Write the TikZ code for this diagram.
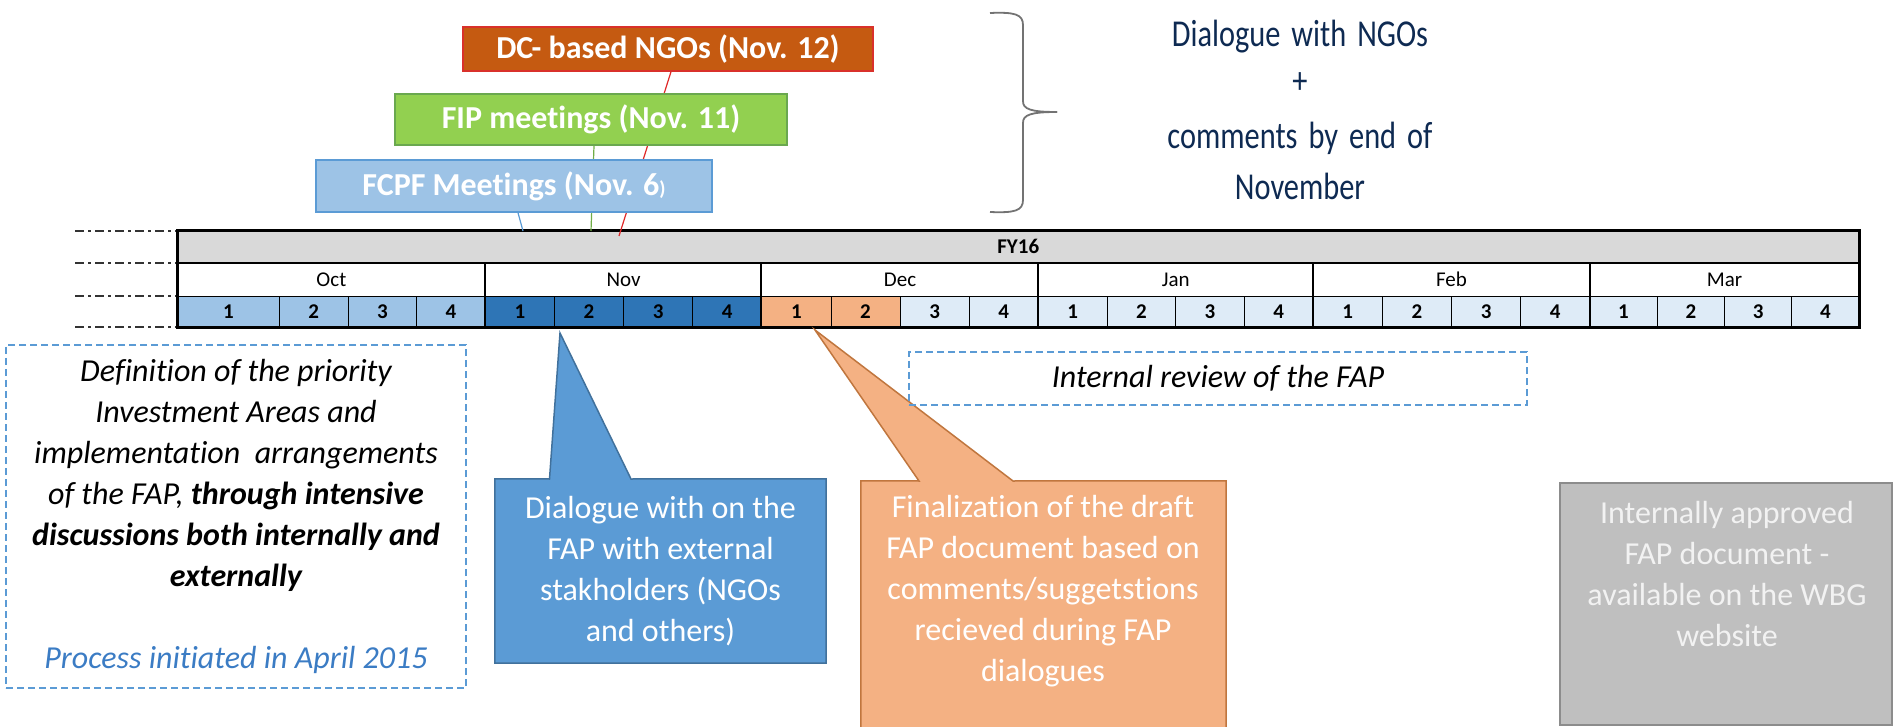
\documentclass[tikz,border=0pt]{standalone}
\usepackage{fontspec}
\setmainfont{Carlito}[Ligatures=NoCommon]
\newfontfamily\navyfont{Carlito}[FakeStretch=0.8,WordSpace=1.6,Ligatures=NoCommon]
\usetikzlibrary{calc}
\pgfdeclarelayer{bg}
\pgfdeclarelayer{mid}
\pgfsetlayers{bg,mid,main}
\definecolor{dcfill}{HTML}{C55A11}
\definecolor{dcdraw}{HTML}{D9312B}
\definecolor{fipfill}{HTML}{92D050}
\definecolor{fipdraw}{HTML}{6AA84F}
\definecolor{fcpffill}{HTML}{9DC3E6}
\definecolor{fcpfdraw}{HTML}{5B9BD5}
\definecolor{octc}{HTML}{9DC3E6}
\definecolor{novc}{HTML}{2E75B6}
\definecolor{decc}{HTML}{F4B183}
\definecolor{palec}{HTML}{DEEBF7}
\definecolor{fyc}{HTML}{D9D9D9}
\definecolor{navy}{HTML}{0E2A52}
\definecolor{dashblue}{HTML}{5B9BD5}
\definecolor{procblue}{HTML}{3B7CC4}
\definecolor{calblue}{HTML}{5B9BD5}
\definecolor{calbluedraw}{HTML}{41719C}
\definecolor{calorange}{HTML}{F4B183}
\definecolor{calorangedraw}{HTML}{C0763E}
\definecolor{grayfill}{HTML}{BFBFBF}
\definecolor{graydraw}{HTML}{8C8C8C}
\definecolor{graytext}{HTML}{F2F2F2}
\definecolor{redlink}{HTML}{E02828}
\definecolor{greenlink}{HTML}{70AD47}
\definecolor{bluelink}{HTML}{5B9BD5}
\newcommand\fsz[2]{\fontsize{#1}{#2}\selectfont}
\begin{document}
\begin{tikzpicture}[x=1pt,y=-1pt,
  topbox/.style={line width=1.5pt, inner sep=0pt, text=white, font=\bfseries\fsz{32}{36}},
  cell/.style={draw=black, line width=0.8pt, inner sep=0pt},
  weeknum/.style={font=\bfseries\fsz{21}{21}},
  monthname/.style={font=\fsz{21}{21}},
  dashdotmark/.style={draw=black!80, line width=2pt, dash pattern=on 9pt off 4pt on 3pt off 4pt},
  dashbox/.style={draw=dashblue, line width=2.5pt, dash pattern=on 7pt off 4pt, inner sep=0pt},
  caltext/.style={text=white, align=center, font=\fsz{32}{41}},
  link/.style={line width=1.2pt},
  bracestyle/.style={draw=black!55, line width=1.8pt}
]
\useasboundingbox (0,0) rectangle (1893,727);

% ---------------- timeline table ----------------
\begin{pgfonlayer}{bg}
\node[cell, fill=fyc, minimum width=1681.5, minimum height=32.4, font=\bfseries\fsz{21}{21}] (fy) at (1018.25,246.8) {FY16};
\foreach \m/\a/\b in {Oct/177.5/485.3, Nov/485.3/761.8, Dec/761.8/1038.3, Jan/1038.3/1313.1, Feb/1313.1/1589.9, Mar/1589.9/1859}
  \node[cell, fill=white, minimum width={\b-\a}, minimum height=33, monthname] (m\m) at ({(\a+\b)/2},279.5) {\m};
\foreach \a/\b/\n/\c [count=\i] in {
  177.5/279.5/1/octc, 279.5/348.1/2/octc, 348.1/416.7/3/octc, 416.7/485.3/4/octc,
  485.3/554.4/1/novc, 554.4/623.55/2/novc, 623.55/692.7/3/novc, 692.7/761.8/4/novc,
  761.8/830.9/1/decc, 830.9/900.05/2/decc, 900.05/969.2/3/palec, 969.2/1038.3/4/palec,
  1038.3/1107/1/palec, 1107/1175.7/2/palec, 1175.7/1244.4/3/palec, 1244.4/1313.1/4/palec,
  1313.1/1382.3/1/palec, 1382.3/1451.5/2/palec, 1451.5/1520.7/3/palec, 1520.7/1589.9/4/palec,
  1589.9/1657.2/1/palec, 1657.2/1724.45/2/palec, 1724.45/1791.7/3/palec, 1791.7/1859/4/palec}
  \node[cell, fill=\c, minimum width={\b-\a}, minimum height=31.2, weeknum] (w\i) at ({(\a+\b)/2},311.6) {\n};
\foreach \m in {Nov,Dec,Jan,Feb,Mar}
  \draw[line width=2pt] (m\m.north west) -- (m\m.north west |- w1.south);
\draw[line width=2.2pt] (fy.south west) -- (fy.south east);
\draw[line width=3pt] (fy.north west) rectangle (w24.south east);
\foreach \yy in {230.6,263,296,327.2}
  \draw[dashdotmark] (75,\yy) -- (176,\yy);
\end{pgfonlayer}

% ---------------- meeting boxes ----------------
\node[topbox, draw=dcdraw, fill=dcfill, minimum width=410, minimum height=44] (dc) at (668,49) {DC- based NGOs (Nov. 12)};
\node[topbox, draw=fipdraw, fill=fipfill, minimum width=392, minimum height=51] (fip) at (591,119.5) {FIP meetings (Nov. 11)};
\node[topbox, draw=fcpfdraw, fill=fcpffill, minimum width=396, minimum height=52] (fcpf) at (514,186) {FCPF Meetings (Nov. 6{\fsz{20}{20})}};

\coordinate (fcpfend) at (523,231);
\coordinate (fipend) at (591,231);
\coordinate (dcend) at (619,236);
\begin{pgfonlayer}{mid}
\draw[link, draw=bluelink] ($(fcpf.south)+(4,0)$) -- (fcpfend);
\draw[link, draw=greenlink] ($(fip.south)+(3,0)$) -- (fipend);
\draw[link, draw=redlink] ($(dc.south)+(3,0)$) -- (dcend);
\end{pgfonlayer}

% ---------------- brace and NGO note ----------------
\draw[bracestyle] (990,13) .. controls (1014,12) and (1023,14) .. (1023,25) -- (1023,101)
   .. controls (1023,109) and (1030,112) .. (1057,112);
\draw[bracestyle] (990,212) .. controls (1014,213) and (1023,211) .. (1023,200) -- (1023,123)
   .. controls (1023,115) and (1030,112) .. (1057,112);
\node[text=navy, align=center, font=\navyfont\fsz{38}{51}] (dlg) at (1300,110) {Dialogue with NGOs\\[-4pt]+\\[4pt]comments by end of\\November};

% ---------------- left definition box ----------------
\node[dashbox, minimum width=460, minimum height=343] (defbox) at (236,516.5) {};
\node[align=center, font=\itshape\fsz{32}{41}] (deftext) at (236,516.5)
  {Definition of the priority\\Investment Areas and\\implementation\ \ arrangements\\of the FAP, \textbf{through intensive}\\\textbf{discussions both internally and}\\\textbf{externally}\\[41pt]\textcolor{procblue}{Process initiated in April 2015}};

% ---------------- internal review ----------------
\node[dashbox, minimum width=618, minimum height=53, font=\itshape\fsz{32}{36}] (review) at (1218,378.5) {Internal review of the FAP};

% ---------------- blue callout ----------------
\coordinate (bluetip) at (560,333);
\coordinate (blueb1) at (549.5,479);
\coordinate (blueb2) at (631,479);
\node[caltext, minimum width=331, minimum height=184] (bluecal) at (660.5,571)
  {Dialogue with on the\\FAP with external\\stakholders (NGOs\\and others)};
\begin{pgfonlayer}{mid}
\filldraw[fill=calblue, draw=calbluedraw, line width=1.5pt, line join=miter]
  (bluecal.north west) -- (blueb1) -- (bluetip) -- (blueb2) -- (bluecal.north east)
  -- (bluecal.south east) -- (bluecal.south west) -- cycle;
\end{pgfonlayer}

% ---------------- orange callout ----------------
\coordinate (orangetip) at (815,330);
\coordinate (orangeb1) at (919,481);
\coordinate (orangeb2) at (1013,481);
\node[minimum width=365, minimum height=264, inner sep=0pt] (orangecal) at (1043.5,613) {};
\node[caltext] (orangetxt) at (1043,591.5)
  {Finalization of the draft\\FAP document based on\\comments/suggetstions\\recieved during FAP\\dialogues};
\begin{pgfonlayer}{mid}
\filldraw[fill=calorange, draw=calorangedraw, line width=1.5pt, line join=miter]
  (orangecal.north west) -- (orangeb1) -- (orangetip) -- (orangeb2) -- (orangecal.north east)
  -- (orangecal.south east) -- (orangecal.south west) -- cycle;
\end{pgfonlayer}

% ---------------- gray box ----------------
\node[draw=graydraw, fill=grayfill, line width=1.5pt, minimum width=332, minimum height=242, inner sep=0pt] (graybox) at (1726,604) {};
\node[caltext, text=graytext] (graytxt) at (1727,574)
  {Internally approved\\FAP document -\\available on the WBG\\website};
\end{tikzpicture}
\end{document}
